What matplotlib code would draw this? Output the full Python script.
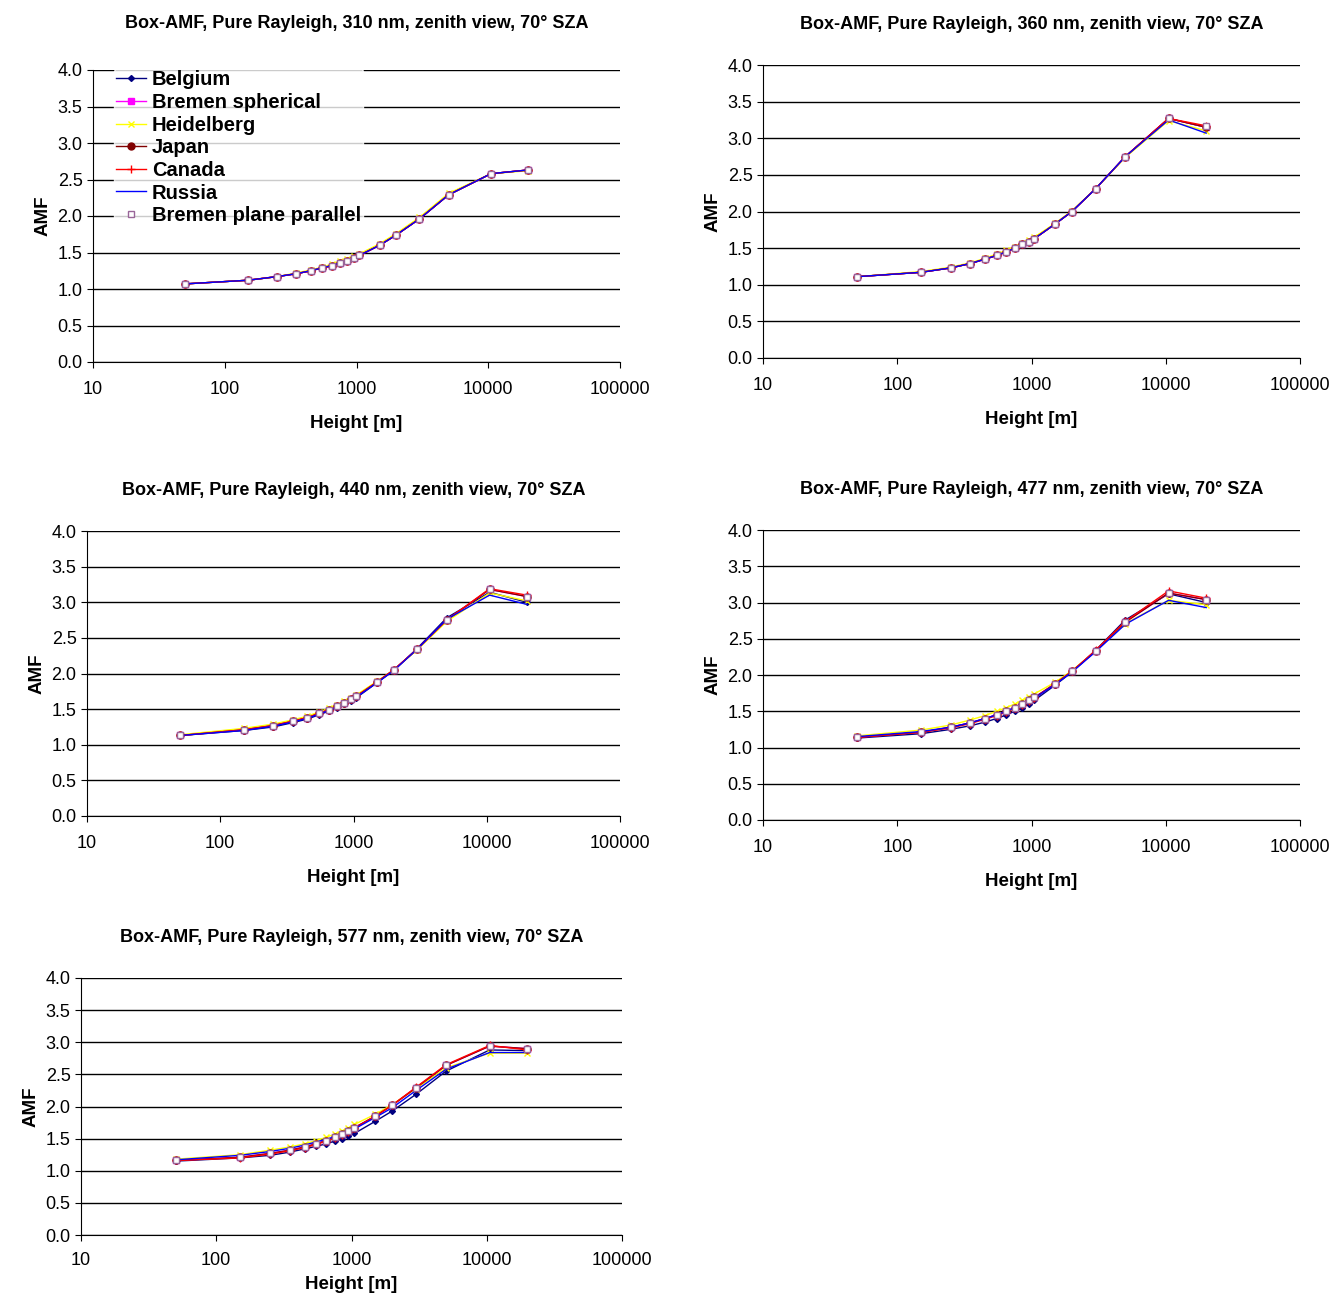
import matplotlib
matplotlib.use("Agg")
import matplotlib.pyplot as plt
from matplotlib.ticker import FixedLocator, NullLocator

heights = [50,150,250,350,450,550,650,750,850,950,1050,1500,2000,3000,5000,10500,20000]
models = ["Belgium","Bremen spherical","Heidelberg","Japan","Canada","Russia","Bremen plane parallel"]
titles = ["310","360","440","477","577"]

b310 = [1.07,1.12,1.17,1.21,1.25,1.29,1.32,1.36,1.39,1.43,1.46,1.60,1.74,1.96,2.29,2.58,2.63]
h310 = [1.07,1.12,1.17,1.22,1.26,1.30,1.34,1.38,1.41,1.45,1.48,1.62,1.76,1.98,2.31,2.58,2.62]
amf310 = {"Belgium": b310, "Bremen spherical": b310, "Heidelberg": h310, "Japan": b310,
          "Canada": b310, "Russia": b310, "Bremen plane parallel": b310}

b360 = [1.11,1.17,1.23,1.29,1.35,1.40,1.45,1.50,1.55,1.59,1.63,1.83,2.00,2.31,2.75,3.27,3.15]
h360 = [1.11,1.18,1.24,1.30,1.36,1.42,1.47,1.52,1.57,1.61,1.65,1.84,2.01,2.31,2.74,3.24,3.10]
r360 = [1.11,1.17,1.23,1.29,1.35,1.40,1.45,1.50,1.55,1.59,1.63,1.83,2.00,2.31,2.75,3.25,3.07]
c360 = [1.11,1.17,1.23,1.29,1.35,1.40,1.45,1.50,1.55,1.59,1.63,1.83,2.00,2.31,2.75,3.27,3.17]
amf360 = {"Belgium": b360, "Bremen spherical": b360, "Heidelberg": h360, "Japan": b360,
          "Canada": c360, "Russia": r360, "Bremen plane parallel": c360}

b440 = [1.13,1.20,1.25,1.31,1.36,1.42,1.47,1.52,1.57,1.62,1.66,1.87,2.04,2.35,2.78,3.14,3.00]
p440 = [1.13,1.21,1.27,1.33,1.38,1.44,1.49,1.54,1.59,1.64,1.68,1.88,2.05,2.34,2.75,3.18,3.08]
h440 = [1.14,1.23,1.29,1.35,1.40,1.46,1.51,1.56,1.61,1.66,1.70,1.89,2.05,2.33,2.73,3.13,3.02]
r440 = [1.13,1.20,1.26,1.32,1.37,1.43,1.48,1.53,1.58,1.63,1.67,1.87,2.04,2.34,2.76,3.10,2.97]
c440 = [1.13,1.21,1.27,1.33,1.38,1.44,1.49,1.54,1.59,1.64,1.68,1.88,2.05,2.34,2.75,3.19,3.10]
amf440 = {"Belgium": b440, "Bremen spherical": p440, "Heidelberg": h440, "Japan": p440,
          "Canada": c440, "Russia": r440, "Bremen plane parallel": p440}

b477 = [1.13,1.19,1.25,1.30,1.35,1.40,1.45,1.50,1.55,1.60,1.65,1.86,2.04,2.34,2.76,3.12,3.00]
p477 = [1.14,1.21,1.28,1.34,1.40,1.45,1.50,1.55,1.60,1.65,1.69,1.88,2.05,2.33,2.73,3.13,3.04]
h477 = [1.16,1.24,1.31,1.38,1.44,1.50,1.55,1.60,1.65,1.70,1.74,1.90,2.06,2.33,2.71,3.03,2.97]
r477 = [1.15,1.22,1.28,1.34,1.40,1.45,1.50,1.55,1.60,1.64,1.68,1.87,2.04,2.32,2.70,3.03,2.93]
c477 = [1.14,1.21,1.27,1.33,1.39,1.44,1.49,1.54,1.59,1.64,1.68,1.88,2.05,2.34,2.74,3.16,3.06]
amf477 = {"Belgium": b477, "Bremen spherical": p477, "Heidelberg": h477, "Japan": p477,
          "Canada": c477, "Russia": r477, "Bremen plane parallel": p477}

b577 = [1.15,1.20,1.24,1.29,1.34,1.38,1.42,1.46,1.50,1.54,1.58,1.77,1.93,2.19,2.55,2.88,2.87]
p577 = [1.16,1.21,1.27,1.32,1.37,1.42,1.47,1.52,1.57,1.62,1.67,1.85,2.02,2.29,2.64,2.94,2.90]
h577 = [1.18,1.25,1.32,1.37,1.42,1.47,1.52,1.57,1.62,1.67,1.72,1.88,2.03,2.28,2.60,2.83,2.83]
r577 = [1.17,1.24,1.30,1.35,1.40,1.45,1.49,1.53,1.57,1.61,1.65,1.83,1.98,2.25,2.58,2.84,2.84]
c577 = [1.16,1.20,1.26,1.31,1.36,1.41,1.46,1.51,1.56,1.61,1.66,1.85,2.02,2.30,2.65,2.95,2.88]
amf577 = {"Belgium": b577, "Bremen spherical": p577, "Heidelberg": h577, "Japan": p577,
          "Canada": c577, "Russia": r577, "Bremen plane parallel": p577}

data = [amf310, amf360, amf440, amf477, amf577]

styles = {
    "Belgium": dict(color="#000080", marker="D", ms=3),
    "Bremen spherical": dict(color="#FF00FF", marker="s", ms=5),
    "Heidelberg": dict(color="#FFFF00", marker="x", ms=5),
    "Japan": dict(color="#800000", marker="o", ms=5),
    "Canada": dict(color="#FF0000", marker="+", ms=6),
    "Russia": dict(color="#0000FF", marker=None, ms=0),
    "Bremen plane parallel": dict(color="#C0C0C0", marker="s", ms=5, mfc="white", mec="#996699", ls="none"),
}

W, H = 1333, 1299
boxes = [(93,70,620,362),(763,65,1300,358),(87,531,620,816),(763,530,1300,820),(81,978,622,1235)]

fig = plt.figure(figsize=(W/100, H/100), dpi=100)
plt.rcParams['font.family'] = ['Liberation Sans', 'DejaVu Sans']
for i,(x0,y0,x1,y1) in enumerate(boxes):
    ax = fig.add_axes([x0/W, 1-y1/H, (x1-x0)/W, (y1-y0)/H])
    for m in models:
        s = dict(styles[m])
        ls = s.pop("ls", "-")
        ms = s.pop("ms")
        mfc = s.pop("mfc", s["color"])
        mec = s.pop("mec", s["color"])
        ax.plot(heights, data[i][m], linestyle=ls, lw=1, ms=ms, mfc=mfc, mec=mec, label=m, **s)
    ax.set_xscale("log")
    ax.set_xlim(10, 100000)
    ax.set_ylim(0, 4.0)
    ax.xaxis.set_major_locator(FixedLocator([10,100,1000,10000,100000]))
    ax.xaxis.set_minor_locator(NullLocator())
    ax.set_xticklabels(["10","100","1000","10000","100000"])
    ax.set_yticks([0.5*k for k in range(9)])
    ax.set_yticklabels([f"{0.5*k:.1f}" for k in range(9)])
    ax.yaxis.grid(True, color="black", lw=1)
    ax.set_axisbelow(True)
    for sp in ["top","right"]:
        ax.spines[sp].set_visible(False)
    ax.tick_params(labelsize=13, direction="out", length=4)
    ax.tick_params(axis="x", pad=10 if i < 4 else 8)
    ax.set_xlabel("Height [m]", fontsize=13.5, fontweight="bold", labelpad=12 if i < 4 else 5)
    ax.set_ylabel("AMF", fontsize=13.5, fontweight="bold")
    ax.set_title(f"Box-AMF, Pure Rayleigh, {titles[i]} nm, zenith view, 70° SZA",
                 fontsize=13, fontweight="bold", pad=30 if i == 0 else 26)
    if i == 0:
        leg = ax.legend(loc="upper left", bbox_to_anchor=(0.02, 1.04), frameon=True,
                        prop=dict(size=14.5, weight="bold"), handlelength=1.5,
                        handletextpad=0.3, labelspacing=0.18, borderpad=0.1)
        leg.get_frame().set_facecolor("white")
        leg.get_frame().set_edgecolor("white")
fig.savefig("out.png", dpi=100)
